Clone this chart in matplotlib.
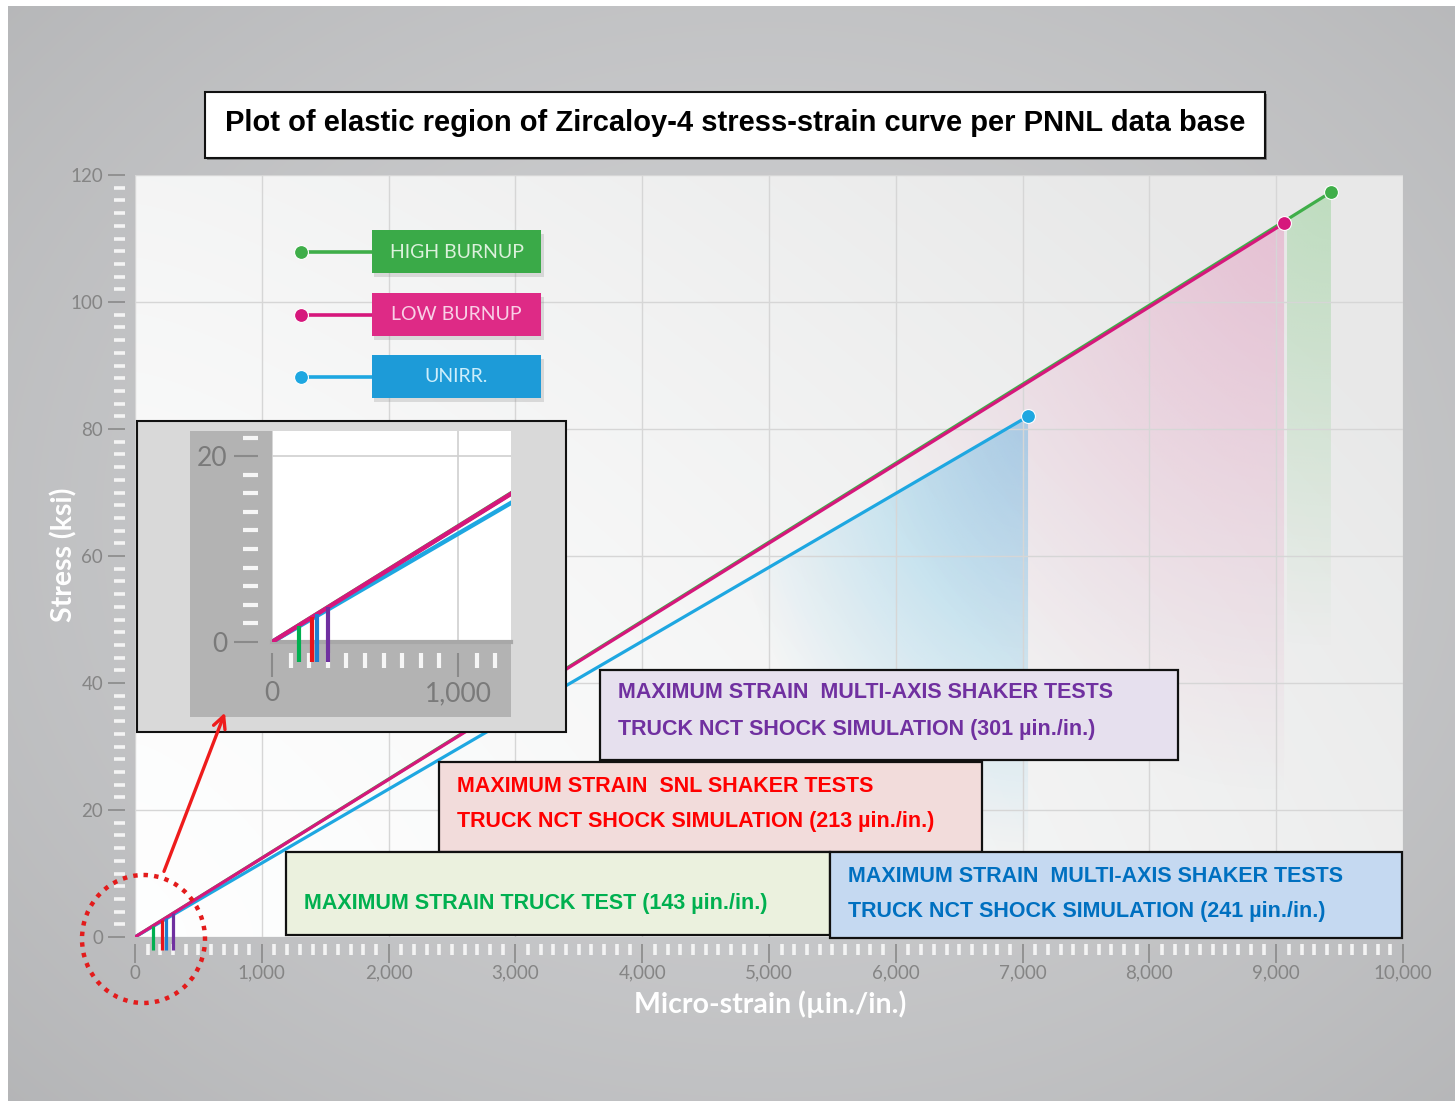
import numpy as np
import matplotlib
matplotlib.use("Agg")
import matplotlib.pyplot as plt
from matplotlib.patches import Rectangle, Ellipse, Polygon, FancyArrowPatch
from matplotlib.colors import to_rgb
from matplotlib.ticker import MultipleLocator, FuncFormatter

W, H = 1455, 1101

# ---------------- data ----------------
series_names = ["HIGH BURNUP", "LOW BURNUP", "UNIRR."]
series_colors = ["#3fae49", "#d6177c", "#1ea7e1"]
end_strain = [9432, 9062, 7043]       # micro-strain at end of elastic region
end_stress = [117.3, 112.4, 82.0]     # ksi

test_strain = [143, 213, 241, 301]    # micro-strain measured in tests
test_colors = ["#00b050", "#e8141b", "#1f7fd0", "#7030a0"]
test_text = [
    ["MAXIMUM STRAIN TRUCK TEST (143 \u00b5in./in.)"],
    ["MAXIMUM STRAIN  SNL SHAKER TESTS", "TRUCK NCT SHOCK SIMULATION (213 \u00b5in./in.)"],
    ["MAXIMUM STRAIN  MULTI-AXIS SHAKER TESTS", "TRUCK NCT SHOCK SIMULATION (241 \u00b5in./in.)"],
    ["MAXIMUM STRAIN  MULTI-AXIS SHAKER TESTS", "TRUCK NCT SHOCK SIMULATION (301 \u00b5in./in.)"],
]
test_box_colors = ["#ebf1de", "#f2dcdb", "#c5d9f1", "#e6e0ee"]
test_text_colors = ["#00b050", "#ff0000", "#0070c0", "#7030a0"]

title = "Plot of elastic region of Zircaloy-4 stress-strain curve per PNNL data base"
xlabel = "Micro-strain (\u00b5in./in.)"
ylabel = "Stress (ksi)"

NARROW = ["Liberation Sans Narrow", "Liberation Sans", "DejaVu Sans"]
TICKF = ["Lato", "DejaVu Sans"]


def fbox(x0, y0, x1, y1):
    """pixel box (top-left origin) -> figure fraction rect"""
    return [x0 / W, 1 - y1 / H, (x1 - x0) / W, (y1 - y0) / H]


fig = plt.figure(figsize=(W / 100, H / 100), dpi=100, facecolor="white")

# ---------------- background ----------------
bg = fig.add_axes([0, 0, 1, 1], zorder=-10)
bg.set_xlim(0, W); bg.set_ylim(H, 0); bg.axis("off")
yy, xx = np.mgrid[0:H:4, 0:W:4]
d = np.sqrt(((xx - 760) / 950.0) ** 2 + ((yy - 520) / 750.0) ** 2)
g = 0.81 - 0.085 * np.clip(d, 0, 1.3) ** 1.6
bgimg = np.dstack([g, g + 0.003, g + 0.01])
bg.imshow(np.clip(bgimg, 0, 1), extent=[8, W, H, 6], aspect="auto", interpolation="bilinear")

# ---------------- main axes ----------------
ax = fig.add_axes(fbox(135, 175, 1403, 937), zorder=1)
ax.set_facecolor("white")

# facecolor gradient
gx, gy = np.meshgrid(np.linspace(0, 1, 200), np.linspace(0, 1, 200))
gv = 0.995 - 0.085 * np.clip(0.75 * gx ** 1.3 + 0.45 * gy ** 1.5, 0, 1)
ax.imshow(np.dstack([gv, gv + 0.002, gv + 0.002]).clip(0, 1), extent=[0, 10000, 0, 120],
          origin="lower", aspect="auto", zorder=0, interpolation="bilinear")


def shade(a, x0, xe, slope, color, rx, ry, amax):
    ye = slope * xe
    xs = np.linspace(x0, xe, 300)
    ys = np.linspace(0, ye, 300)
    X, Y = np.meshgrid(xs, ys)
    dd = np.sqrt(((xe - X) / rx) ** 2 + ((ye - Y) / ry) ** 2)
    A = amax * np.clip(1 - dd, 0, 1) ** 1.0
    rgba = np.zeros((300, 300, 4))
    rgba[..., :3] = to_rgb(color)
    rgba[..., 3] = A
    im = a.imshow(rgba, extent=[x0, xe, 0, ye], origin="lower", aspect="auto",
                  zorder=1, interpolation="bilinear")
    poly = Polygon([(x0, 0), (x0, slope * x0), (xe, ye), (xe, 0)], transform=a.transData)
    im.set_clip_path(poly)


slopes = [s / e for s, e in zip(end_stress, end_strain)]
shade(ax, 4200, end_strain[2], slopes[2], "#6cc3ea", 2400, 70, 0.6)
shade(ax, 5400, end_strain[1], slopes[1], "#e59ac0", 3600, 90, 0.5)
shade(ax, end_strain[1] + 20, end_strain[0], slopes[0], "#8ccf8e", 3000, 72, 0.45)

ax.set_xlim(0, 10000)
ax.set_ylim(0, 120)

# lines
for i in [0, 2, 1]:
    ax.plot([0, end_strain[i]], [0, end_stress[i]], color=series_colors[i], lw=2.3,
            zorder=3, solid_capstyle="round")
    ax.plot([end_strain[i]], [end_stress[i]], "o", color=series_colors[i], ms=10,
            mec="white", mew=0.8, zorder=4, clip_on=False)

# test lines
for s, c in zip(test_strain, test_colors):
    ax.plot([s, s], [-2.0, slopes[1] * s], color=c, lw=2.3, zorder=3.5, clip_on=False,
            solid_capstyle="butt")

ax.set_xticks(np.arange(0, 10001, 1000))
ax.set_yticks(np.arange(0, 121, 20))
ax.xaxis.set_minor_locator(MultipleLocator(100))
ax.yaxis.set_minor_locator(MultipleLocator(2))
ax.xaxis.set_major_formatter(FuncFormatter(lambda v, p: f"{int(v):,}"))
ax.grid(True, which="major", color="#d6d6d6", lw=1.0, zorder=0.5)
ax.set_axisbelow(False)
for sp in ax.spines.values():
    sp.set_visible(False)
ax.spines["left"].set_position(("outward", 7))
ax.spines["bottom"].set_position(("outward", 5))
ax.tick_params(which="major", direction="out", color="#8e8e8e", labelcolor="#858585",
               labelsize=13.5, width=1.3)
ax.tick_params(axis="y", which="major", length=12, pad=4)
ax.tick_params(axis="x", which="major", length=14, pad=1)
ax.tick_params(which="minor", direction="out", color="#f4f4f4", length=8, width=2.6)
for lab in ax.get_xticklabels() + ax.get_yticklabels():
    lab.set_family(TICKF)
for gl in ax.get_xgridlines() + ax.get_ygridlines():
    gl.set_zorder(0.5)

# ---------------- frame overlay (under inset) ----------------
ov = fig.add_axes([0, 0, 1, 1], zorder=1.5)
ov.set_xlim(0, W); ov.set_ylim(H, 0); ov.axis("off"); ov.patch.set_alpha(0)
ov.add_patch(Rectangle((137, 421), 429, 311, facecolor="#d9d9d9", edgecolor="#111111", lw=1.5))
ov.add_patch(Rectangle((190, 431), 321, 286, facecolor="#b3b3b3", edgecolor="none"))

# ---------------- inset axes ----------------
ins = fig.add_axes(fbox(272, 431, 511, 642), zorder=2)
ins.set_facecolor("white")
ins.set_xlim(0, 1285)
ins.set_ylim(0, 22.7)
for i in [0, 2, 1]:
    ins.plot([0, end_strain[i]], [0, end_stress[i]], color=series_colors[i], lw=3.2, zorder=3)
for s, c in zip(test_strain, test_colors):
    ins.plot([s, s], [-2.2, slopes[1] * s], color=c, lw=3.0, zorder=3.5, clip_on=False,
             solid_capstyle="butt")
ins.set_xticks([0, 1000])
ins.set_yticks([0, 20])
ins.xaxis.set_minor_locator(MultipleLocator(100))
ins.yaxis.set_minor_locator(MultipleLocator(2))
ins.xaxis.set_major_formatter(FuncFormatter(lambda v, p: f"{int(v):,}"))
ins.grid(True, which="major", color="#d0d0d0", lw=1.2)
for sp in ins.spines.values():
    sp.set_visible(False)
ins.spines["left"].set_position(("outward", 10))
ins.spines["bottom"].set_position(("outward", 8))
ins.axhline(0, color="#a8a8a8", lw=3, zorder=2, clip_on=False)
ins.tick_params(which="major", direction="out", color="#8a8a8a", labelcolor="#7a7a7a",
                labelsize=19, width=1.5, length=17, pad=5)
ins.tick_params(axis="x", which="major", pad=3)
ins.tick_params(which="minor", direction="out", color="#f6f6f6", length=11, width=3)
for lab in ins.get_xticklabels() + ins.get_yticklabels():
    lab.set_family(TICKF)

# ---------------- top overlay ----------------
top = fig.add_axes([0, 0, 1, 1], zorder=5)
top.set_xlim(0, W); top.set_ylim(H, 0); top.axis("off"); top.patch.set_alpha(0)

# title box
top.add_patch(Rectangle((207, 94), 1060, 66, facecolor="#444444", edgecolor="none", alpha=0.5))
top.add_patch(Rectangle((205, 92), 1060, 66, facecolor="white", edgecolor="#111111", lw=1.5))
top.text(735, 123, title, ha="center", va="center", fontsize=21, fontweight="bold",
         family=NARROW, color="black")

# axis labels
top.text(64, 555, ylabel, rotation=90, ha="center", va="center", fontsize=20.5,
         fontweight="bold", color="white", family=["Lato", "DejaVu Sans"])
top.text(770, 1004, xlabel, ha="center", va="center", fontsize=20.5,
         fontweight="bold", color="white", family=["Lato", "DejaVu Sans"])

# legend
leg_y = [252, 315, 377]
leg_face = ["#3aaa48", "#de2a86", "#1d9bd8"]
leg_txt = ["#dcf1dc", "#f8d0e6", "#cdeefb"]
for i in range(3):
    y = leg_y[i]
    top.plot([301, 372], [y, y], color=series_colors[i], lw=2.6, solid_capstyle="butt")
    top.plot([301], [y], "o", color=series_colors[i], ms=10, mec="white", mew=0.8)
    top.add_patch(Rectangle((374, y - 18), 170, 43, facecolor="#888888", edgecolor="none", alpha=0.25))
    top.add_patch(Rectangle((372, y - 22), 169, 43, facecolor=leg_face[i], edgecolor="none"))
    top.text(456.5, y, series_names[i], ha="center", va="center", fontsize=14,
             color=leg_txt[i], family=["Lato", "DejaVu Sans"])

# test annotation boxes: order green, red, blue, purple
boxes = [(286, 852, 830, 935), (439, 762, 982, 852), (830, 852, 1402, 938), (600, 670, 1178, 760)]
text_ys = [[904], [787, 822], [877, 912], [693, 729]]
draw_order = [3, 1, 0, 2]
for k in draw_order:
    x0, y0, x1, y1 = boxes[k]
    top.add_patch(Rectangle((x0, y0), x1 - x0, y1 - y0, facecolor=test_box_colors[k],
                            edgecolor="#111111", lw=1.6))
    for t, ty in zip(test_text[k], text_ys[k]):
        top.text(x0 + 18, ty, t, ha="left", va="center", fontsize=15.5, fontweight="bold",
                 color=test_text_colors[k], family=NARROW)

# dotted circle and arrow
top.add_patch(Ellipse((143.5, 939), 123, 128, facecolor="none", edgecolor="#e31b1b",
                      lw=3.2, linestyle=(0, (1, 1.4))))
top.add_patch(FancyArrowPatch((163, 874), (226, 710), arrowstyle="->", mutation_scale=22,
                              color="#ee1c1c", lw=2.4))

fig.savefig("out.png", dpi=100, facecolor="white")
